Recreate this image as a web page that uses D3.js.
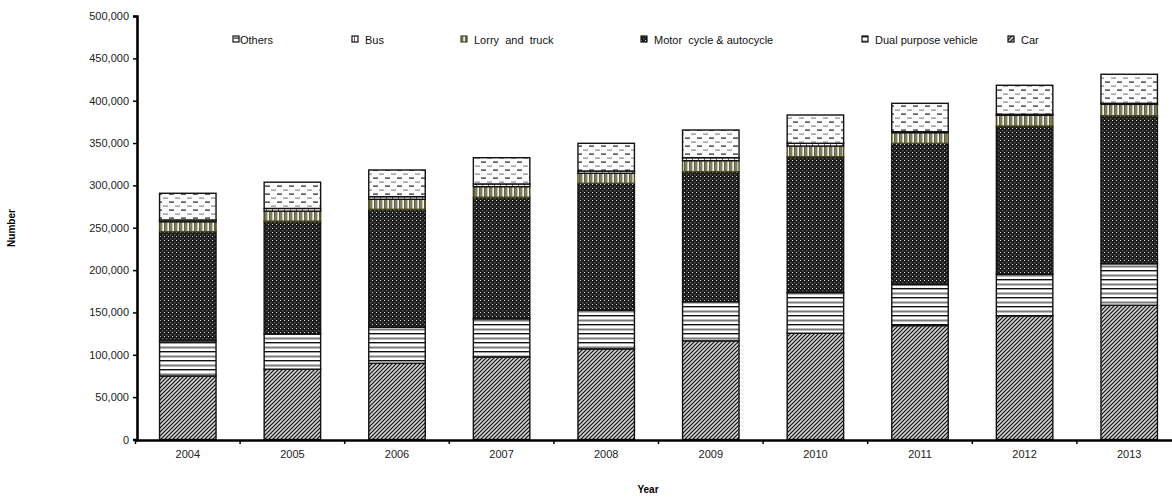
<!DOCTYPE html>
<html>
<head>
<meta charset="utf-8">
<script src="https://cdn.jsdelivr.net/npm/d3@7"></script>
<style>
  html, body { margin: 0; padding: 0; background: #fff; }
  svg { display: block; font-family: "Liberation Sans", Arial, sans-serif; }
</style>
</head>
<body>
<svg id="chart" width="1172" height="498"></svg>
<script>
// ---- data ----
const years = ["2004","2005","2006","2007","2008","2009","2010","2011","2012","2013"];
const car        = [75000, 83000, 90000, 97500, 107000, 116500, 125500, 134500, 146000, 158500];
const dualPurpose= [41500, 41500, 42500, 45000, 45800, 46300, 48000, 48500, 49000, 49000];
const motorCycle = [128800,133300,139300,143500,149700,153400,160400,166700,175100,174800];
const lorry      = [11800, 11800, 11800, 12500, 11800, 13000, 12600, 12500, 12700, 13400];
const bus        = [2100, 3200, 3100, 3200, 2700, 3500, 3200, 1200, 1100, 1200];
const others     = [31500, 31000, 31500, 31000, 32700, 32700, 33400, 33500, 34300, 34300];
const legendOrder = ["Others","Bus","Lorry  and  truck","Motor  cycle & autocycle","Dual purpose vehicle","Car"];
const yTicks = [0,50000,100000,150000,200000,250000,300000,350000,400000,450000,500000];

const seriesData = [car, dualPurpose, motorCycle, lorry, bus, others];
const keys = ["car","dual","motor","lorry","bus","others"];
const table = years.map((y,i) => {
  const o = {year: y};
  keys.forEach((k,j) => o[k] = seriesData[j][i]);
  return o;
});

const svg = d3.select("#chart");
const defs = svg.append("defs");

// ---- patterns ----
function pat(id, w, h, build) {
  const p = defs.append("pattern").attr("id", id)
    .attr("patternUnits","userSpaceOnUse").attr("width", w).attr("height", h);
  build(p);
}
pat("p-car", 4, 4, p => {
  p.append("rect").attr("width",4).attr("height",4).attr("fill","#d4d4d4");
  p.append("path").attr("d","M-1,1 L1,-1 M0,4 L4,0 M3,5 L5,3").attr("stroke","#111").attr("stroke-width",1.2);
});
pat("p-dual", 8, 9, p => {
  p.append("rect").attr("width",8).attr("height",9).attr("fill","#fff");
  p.append("rect").attr("y",0).attr("width",8).attr("height",1.4).attr("fill","#111");
  p.append("rect").attr("y",4.5).attr("width",8).attr("height",2).attr("fill","#7a7a7a");
});
pat("p-motor", 4, 4, p => {
  p.append("rect").attr("width",4).attr("height",4).attr("fill","#1c1c1c");
  p.append("rect").attr("x",0).attr("y",0).attr("width",1).attr("height",1).attr("fill","#e0e0e0");
  p.append("rect").attr("x",2).attr("y",2).attr("width",1.4).attr("height",1.4).attr("fill","#5a5a5a");
});
pat("p-lorry", 5, 5, p => {
  p.append("rect").attr("width",5).attr("height",5).attr("fill","#f4f4ee");
  p.append("rect").attr("x",0).attr("width",2.4).attr("height",5).attr("fill","#7e7e5c");
  p.append("rect").attr("x",4.2).attr("width",0.8).attr("height",5).attr("fill","#3a3a2a");
});
pat("p-bus", 6, 6, p => {
  p.append("rect").attr("width",6).attr("height",6).attr("fill","#fff");
  p.append("rect").attr("x",2).attr("y",0).attr("width",1).attr("height",6).attr("fill","#8a5a8a");
});
pat("p-others", 12, 8, p => {
  p.append("rect").attr("width",12).attr("height",8).attr("fill","#fcfcfc");
  p.append("rect").attr("x",1).attr("y",1.5).attr("width",5).attr("height",1.2).attr("fill","#222");
  p.append("rect").attr("x",7).attr("y",5.5).attr("width",5).attr("height",1.2).attr("fill","#888");
});
const fills = {car:"url(#p-car)", dual:"url(#p-dual)", motor:"url(#p-motor)", lorry:"url(#p-lorry)", bus:"url(#p-bus)", others:"url(#p-others)"};
const strokes = {car:"#111", dual:"#111", motor:"#111", lorry:"#4a4a1c", bus:"#111", others:"#111"};

// ---- scales ----
const x = d3.scaleBand().domain(years).range([135.5, 1181.5]).paddingInner(0.46).paddingOuter(0.23);
const y = d3.scaleLinear().domain([0, 500000]).range([439.5, 16]);

const stacked = d3.stack().keys(keys)(table);

// ---- bars ----
const g = svg.append("g");
stacked.forEach(layer => {
  g.append("g").selectAll("rect").data(layer).join("rect")
    .attr("x", d => x(d.data.year))
    .attr("width", x.bandwidth())
    .attr("y", d => y(d[1]))
    .attr("height", d => y(d[0]) - y(d[1]))
    .attr("fill", fills[layer.key])
    .attr("stroke", strokes[layer.key])
    .attr("stroke-width", 1.4);
});

// ---- y axis ----
const yAxis = svg.append("g").attr("transform","translate(137,0)")
  .call(d3.axisLeft(y).tickValues(yTicks).tickFormat(d3.format(",")).tickSize(4).tickPadding(4));
yAxis.select(".domain").attr("stroke","#000").attr("stroke-width",2.6);
yAxis.selectAll(".tick line").attr("stroke","#000").attr("stroke-width",1.5);
yAxis.selectAll(".tick text").attr("font-size",11).attr("fill","#222")
  .attr("font-family","'Liberation Sans', Arial, sans-serif");

// ---- x axis ----
const xAxis = svg.append("g").attr("transform","translate(0,440)")
  .call(d3.axisBottom(x).tickSize(0).tickPadding(10));
xAxis.select(".domain").attr("stroke","#000").attr("stroke-width",2.6);
xAxis.selectAll(".tick text").attr("font-size",11).attr("fill","#222")
  .attr("font-family","'Liberation Sans', Arial, sans-serif");
const bounds = years.map(d => x(d) - x.step()*x.paddingInner()/2);
xAxis.selectAll("line.bt").data(bounds).join("line").attr("class","bt")
  .attr("x1", d => d).attr("x2", d => d).attr("y1", 0).attr("y2", 4)
  .attr("stroke","#000").attr("stroke-width",1.5);

// ---- axis titles ----
svg.append("text").attr("transform","translate(15,228) rotate(-90)")
  .attr("text-anchor","middle").attr("font-size",10).attr("font-weight","bold").text("Number");
svg.append("text").attr("x",648).attr("y",493)
  .attr("text-anchor","middle").attr("font-size",10).attr("font-weight","bold").text("Year");

// ---- legend ----
const legendKeys = ["others","bus","lorry","motor","dual","car"];
const legendX = [233, 352, 461, 641, 862, 1008];
const lg = svg.append("g");
legendKeys.forEach((k,i) => {
  const gi = lg.append("g").attr("transform", `translate(${legendX[i]},36)`);
  gi.append("rect").attr("width",6).attr("height",6).attr("fill", fills[k])
    .attr("stroke", k === "lorry" ? "#4a4a1c" : "#111").attr("stroke-width",1.2);
  gi.append("text").attr("x", i === 0 ? 7 : 13).attr("y",7.5).attr("font-size",11).attr("fill","#111")
    .style("white-space","pre").text(legendOrder[i]);
});
</script>
</body>
</html>
